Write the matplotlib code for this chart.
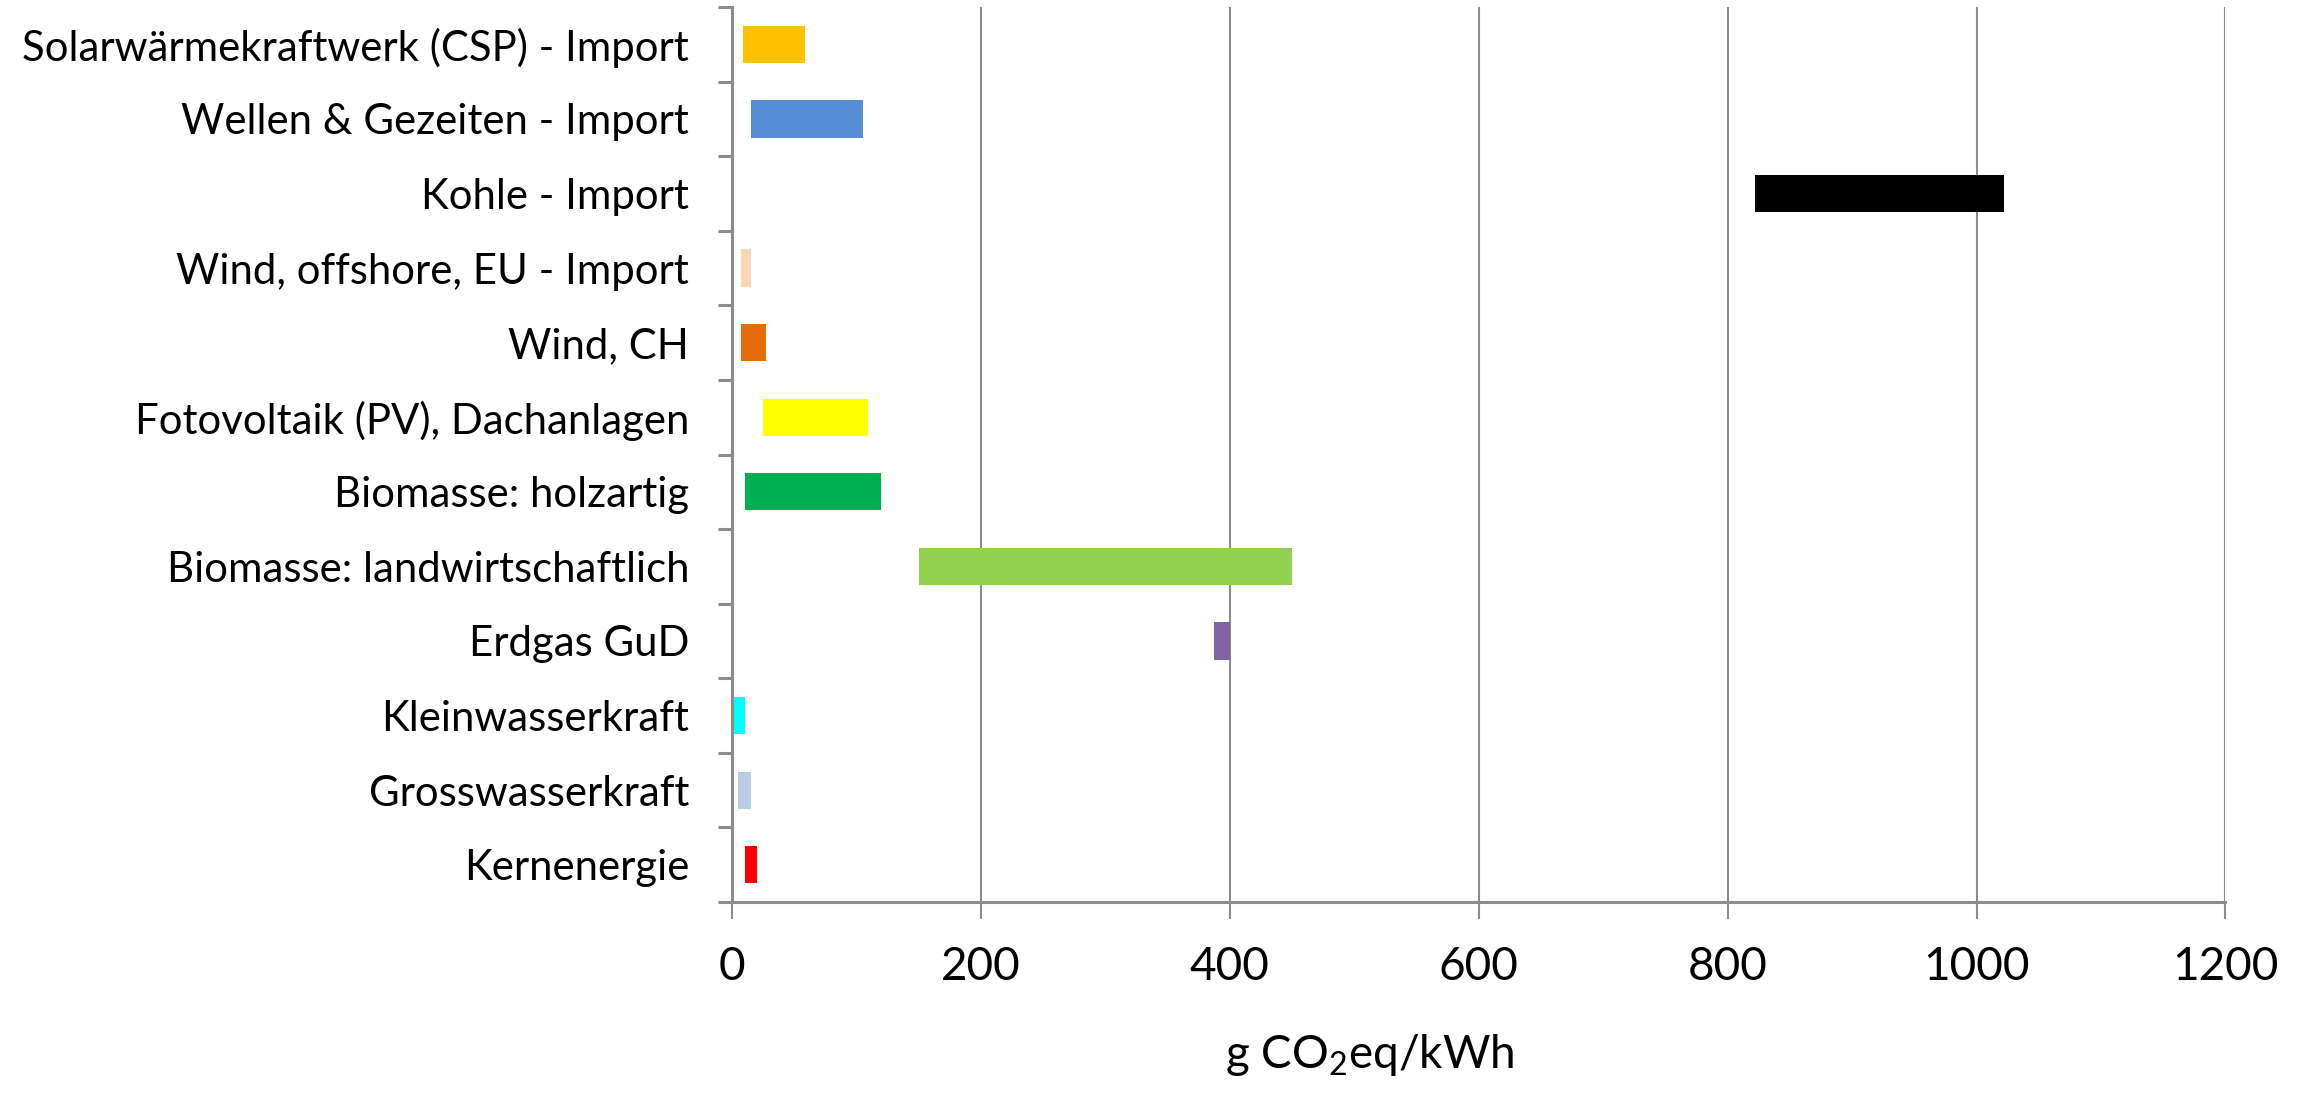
import matplotlib
matplotlib.use("Agg")
import matplotlib.pyplot as plt
import numpy as np
from matplotlib import font_manager

categories = [
    "Solarwärmekraftwerk (CSP) - Import",
    "Wellen & Gezeiten - Import",
    "Kohle - Import",
    "Wind, offshore, EU - Import",
    "Wind, CH",
    "Fotovoltaik (PV), Dachanlagen",
    "Biomasse: holzartig",
    "Biomasse: landwirtschaftlich",
    "Erdgas GuD",
    "Kleinwasserkraft",
    "Grosswasserkraft",
    "Kernenergie",
]
low_values = [9, 15, 822, 7.5, 7.5, 25, 10, 150, 387, 1, 5, 10]
high_values = [59, 105, 1022, 15, 27, 109, 120, 450, 400, 10, 15, 20]
bar_colors = ["#FFC000", "#558ED5", "#000000", "#FCD5B5", "#E46C0A", "#FFFF00",
              "#00B050", "#92D050", "#8064A2", "#00FFFF", "#B9CDE5", "#FF0000"]
x_ticks = [0, 200, 400, 600, 800, 1000, 1200]

avail = {f.name for f in font_manager.fontManager.ttflist}
label_font = "Lato" if "Lato" in avail else "DejaVu Sans"

plt.rcParams["font.family"] = [label_font, "DejaVu Sans"]
plt.rcParams["mathtext.fontset"] = "custom"
plt.rcParams["mathtext.rm"] = label_font
plt.rcParams["mathtext.it"] = label_font

fig = plt.figure(figsize=(23.05, 10.93), dpi=100)
ax = fig.add_axes([0.3176, 0.1747, 0.9655 - 0.3176, 0.9936 - 0.1747])

y = np.arange(len(categories))
widths = [h - l for l, h in zip(low_values, high_values)]
ax.barh(y, widths, left=low_values, height=0.5, color=bar_colors, zorder=3)

ax.set_xlim(0, 1200)
ax.set_ylim(len(categories) - 0.5, -0.5)

grid_c = "#8C8C8C"
ax.set_xticks(x_ticks)
ax.set_xticklabels([str(v) for v in x_ticks], fontsize=33)
for v in x_ticks[1:]:
    ax.axvline(v, color=grid_c, lw=1.5, zorder=1)

ax.set_yticks(y)
ax.set_yticklabels(categories, fontsize=30.2)
ax.set_yticks(np.arange(len(categories) + 1) - 0.5, minor=True)
ax.tick_params(axis="y", which="major", length=0, pad=31)
ax.tick_params(axis="y", which="minor", length=10, width=2.2, color=grid_c, direction="out")
ax.tick_params(axis="x", which="major", length=12, width=1.5, color=grid_c, pad=20)

for s in ["top", "right"]:
    ax.spines[s].set_visible(False)
for s in ["left", "bottom"]:
    ax.spines[s].set_color(grid_c)
    ax.spines[s].set_linewidth(2.2)
    ax.spines[s].set_zorder(4)

fig.text(1370 / 2305, 1 - 1068 / 1093, r"g CO$_2$eq/kWh", fontsize=33,
         ha="center", va="baseline")

fig.savefig("out.png", dpi=100, facecolor="white")
